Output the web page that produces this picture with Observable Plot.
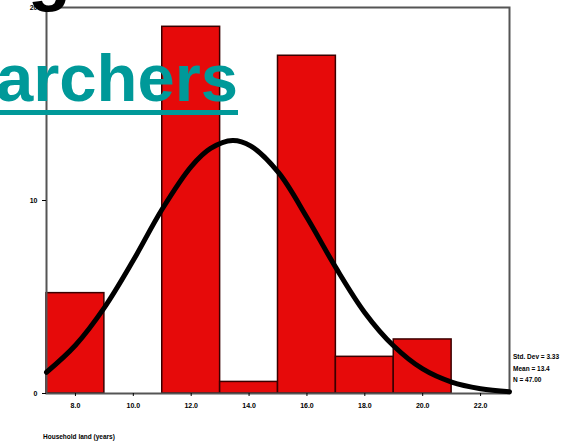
<!DOCTYPE html>
<html><head><meta charset="utf-8">
<script src="https://cdn.jsdelivr.net/npm/d3@7"></script>
<script src="https://cdn.jsdelivr.net/npm/@observablehq/plot@0.6"></script>
<style>
body{margin:0;background:#fff;}
#chart{position:relative;width:568px;height:443px;overflow:hidden;}
</style>
</head><body><div id="chart"></div>
<script>
// Histogram bins (bin edges) and counts
const binStart = [7, 11, 13, 15, 17, 19];
const binEnd   = [9, 13, 15, 17, 19, 21];
const counts   = [5.2, 19, 0.6, 17.5, 1.9, 2.8];

// Axis ticks
const xTickValues = [8, 10, 12, 14, 16, 18, 20, 22];
const xTickLabels = ["8.0", "10.0", "12.0", "14.0", "16.0", "18.0", "20.0", "22.0"];
const yTickValues = [0, 10, 20];
const yTickLabels = ["0", "10", "20"];

// Fitted normal curve
const curveX = [7.0, 8.0, 9.0, 10.0, 11.0, 12.0, 12.67, 13.43, 14.05, 15.02, 16.0, 17.0, 18.0, 19.0, 20.0, 21.0, 22.0, 23.0];
const curveY = [1.10, 2.50, 4.45, 6.90, 9.56, 11.76, 12.70, 13.11, 12.83, 11.44, 9.12, 6.52, 4.19, 2.46, 1.27, 0.59, 0.25, 0.09];

// Texts
const legendLines = ["Std. Dev = 3.33", "Mean = 13.4", "N = 47.00"];
const xTitle = "Household land (years)";
const slideTitle = "archers";
const slideTitleAbove = "g";

const bins = binStart.map((s, i) => ({x1: s, x2: binEnd[i], count: counts[i]}));
const curve = curveX.map((x, i) => ({x, y: curveY[i]}));

const plot = Plot.plot({
  width: 568, height: 443,
  marginLeft: 46, marginRight: 59, marginTop: 7, marginBottom: 50,
  style: {fontFamily: "Liberation Sans, Arial, sans-serif", fontSize: "7px", fontWeight: "bold", background: "#fff", color: "#000"},
  x: {domain: [7, 23]},
  y: {domain: [0, 20]},
  marks: [
    Plot.rectY(bins, {x1: "x1", x2: "x2", y: "count", fill: "#e60a0a", stroke: "#3a0000", strokeWidth: 1.5}),
    Plot.frame({stroke: "#555", strokeWidth: 2}),
    Plot.line(curve, {x: "x", y: "y", stroke: "#000", strokeWidth: 5, curve: "catmull-rom"}),
    Plot.axisX({ticks: xTickValues, tickFormat: (d) => xTickLabels[xTickValues.indexOf(d)], tickSize: 3, tickPadding: 7, label: null, stroke: "#000"}),
    Plot.axisY({ticks: yTickValues, tickFormat: (d) => yTickLabels[yTickValues.indexOf(d)], tickSize: 4, tickPadding: 5, label: null, stroke: "#000"})
  ]
});
document.getElementById("chart").appendChild(plot);

const svg = d3.select(plot);
const ff = "Liberation Sans, Arial, sans-serif";
// legend
svg.append("g")
  .attr("font-family", ff).attr("text-anchor", "start")
  .attr("font-size", 6.5).attr("font-weight", "bold").attr("fill", "#000")
  .selectAll("text").data(legendLines).join("text")
  .attr("x", 513).attr("y", (d, i) => 359 + i * 11.5)
  .attr("text-anchor", "start")
  .text(d => d);
// x title
svg.append("text")
  .attr("x", 43).attr("y", 439).attr("text-anchor", "start")
  .attr("font-family", ff)
  .attr("font-size", 6.5).attr("font-weight", "bold").attr("fill", "#000")
  .text(xTitle);
// slide title overlay
svg.append("text")
  .attr("x", 28).attr("y", -3).attr("text-anchor", "start")
  .attr("font-family", ff)
  .attr("font-size", 70).attr("font-weight", "bold").attr("fill", "#000")
  .text(slideTitleAbove);
svg.append("text")
  .attr("x", -4).attr("y", 101).attr("text-anchor", "start")
  .attr("font-family", ff)
  .attr("font-size", 67).attr("font-weight", "bold").attr("fill", "#009999")
  .text(slideTitle);
svg.append("rect")
  .attr("x", 0).attr("y", 110).attr("width", 238).attr("height", 5)
  .attr("fill", "#009999");
</script>
</body></html>
